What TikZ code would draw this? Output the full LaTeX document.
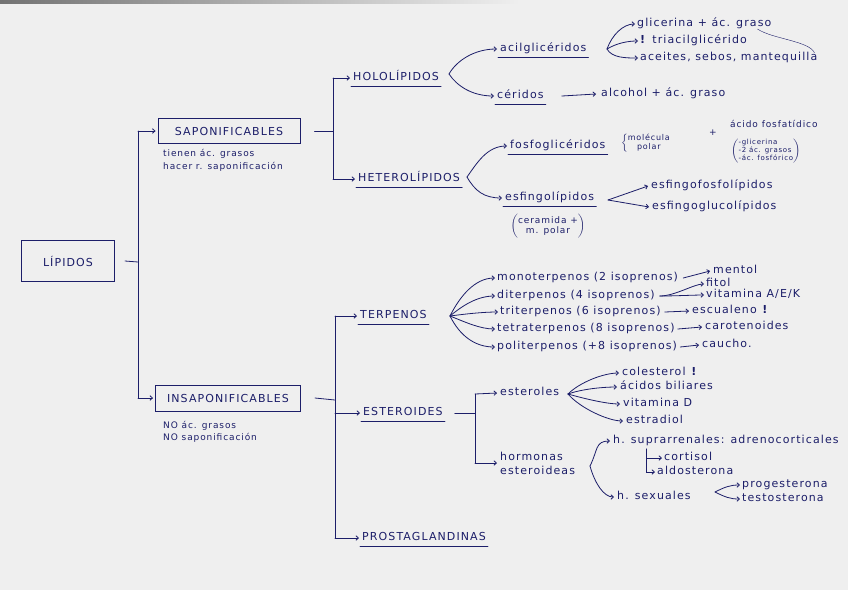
\documentclass[tikz,border=0pt]{standalone}
\usepackage{fontspec}
\setmainfont{DejaVu Sans}
\newfontfamily\hand[LetterSpace=10]{DejaVu Sans}
\usetikzlibrary{arrows.meta}
\definecolor{inkc}{RGB}{28,30,105}
\definecolor{bgc}{RGB}{239,239,239}
\newcommand{\ulnode}[1]{\draw[ink] ([xshift=-2pt,yshift=-3pt]#1.south west) -- ([xshift=2pt,yshift=-3pt]#1.south east);}
\tikzset{
  ink/.style={draw=inkc, line width=0.8pt, line cap=round},
  arr/.style={ink, -{Straight Barb[length=2.5pt,width=4.5pt]}},
  txt/.style={anchor=west, inner sep=0pt, text=inkc, text height=7.5pt, text depth=2.2pt, font=\hand\fontsize{11}{12}\selectfont},
  txtm/.style={anchor=west, inner sep=0pt, text=inkc, align=left, font=\hand\fontsize{11}{14}\selectfont},
  note/.style={anchor=west, inner sep=0pt, text=inkc, text height=6pt, text depth=2pt, font=\hand\fontsize{9}{10}\selectfont},
  boxed/.style={draw=inkc, line width=0.9pt, text=inkc, inner sep=0pt, font=\hand\fontsize{11}{12}\selectfont},
}
\begin{document}
\begin{tikzpicture}[x=1pt,y=-1pt]
\fill[bgc] (0,0) rectangle (848,590);
\shade[left color=black!55, right color=bgc] (0,0) rectangle (520,3);
\useasboundingbox (0,0) rectangle (848,590);

% level 0 and 1
\node[boxed, minimum width=93pt, minimum height=41pt] (lip) at (68,261) {LÍPIDOS};
\node[boxed, minimum width=142pt, minimum height=25pt] (sap) at (229,131) {SAPONIFICABLES};
\node[boxed, minimum width=145pt, minimum height=26pt] (ins) at (228,398) {INSAPONIFICABLES};
\node[note] (sapn1) at (163,154) {tienen ác. grasos};
\node[note] (sapn2) at (163,167) {hacer r. saponificación};
\node[note] (insn1) at (163,426) {NO ác. grasos};
\node[note] (insn2) at (163,438) {NO saponificación};

\coordinate (lj) at (138,262);
\coordinate (la) at (138,131);
\coordinate (lb) at (138,398);
\draw[ink] ([xshift=10pt]lip.east) -- (lj);
\draw[ink] (la) -- (lb);
\draw[arr] (la) -- ([xshift=-2pt]sap.west);
\draw[arr] (lb) -- ([xshift=-2pt]ins.west);

% level 2
\node[txt] (hol) at (353,78) {HOLOLÍPIDOS};
\node[txt] (het) at (358,179) {HETEROLÍPIDOS};
\node[txt] (terp) at (360,316) {TERPENOS};
\node[txt] (est) at (363,413) {ESTEROIDES};
\node[txt] (prost) at (362,538) {PROSTAGLANDINAS};
\ulnode{hol}\ulnode{het}\ulnode{terp}\ulnode{est}\ulnode{prost}

\coordinate (sj) at (333,131);
\coordinate (sa) at (333,78);
\coordinate (sb) at (333,179);
\draw[ink] ([xshift=14pt]sap.east) -- (sj);
\draw[ink] (sa) -- (sb);
\draw[arr] (sa) -- ([xshift=-3pt]hol.west);
\draw[arr] (sb) -- ([xshift=-3pt]het.west);

\coordinate (ij) at (335,400);
\coordinate (ia) at (335,316);
\coordinate (ie) at (335,413);
\coordinate (ib) at (335,538);
\draw[ink] ([xshift=14pt]ins.east) -- (ij);
\draw[ink] (ia) -- (ib);
\draw[arr] (ia) -- ([xshift=-3pt]terp.west);
\draw[arr] (ie) -- ([xshift=-3pt]est.west);
\draw[arr] (ib) -- ([xshift=-3pt]prost.west);

% hololipidos
\node[txt] (acil) at (500,49) {acilglicéridos};
\node[txt] (cer) at (497,96) {céridos};
\ulnode{acil}\ulnode{cer}
\coordinate (hs) at (449,74);
\draw[arr] (hs) .. controls +(8,-14) and +(-22,0) .. ([xshift=-3pt]acil.west);
\draw[arr] (hs) .. controls +(8,12) and +(-22,0) .. ([xshift=-3pt]cer.west);

\node[txt] (glic) at (637,24) {glicerina + ác. graso};
\node[txt] (tri) at (640,41) {\textbf{!} triacilglicérido};
\node[txt] (acei) at (640,58) {aceites, sebos, mantequilla};
\coordinate (as) at (607,49);
\draw[arr] (as) .. controls +(5,-14) and +(-12,0) .. ([xshift=-2pt]glic.west);
\draw[arr] (as) .. controls +(10,-6) and +(-10,0) .. ([xshift=-2pt]tri.west);
\draw[arr] (as) .. controls +(5,9) and +(-12,0) .. ([xshift=-2pt]acei.west);
\draw[inkc, line width=0.4pt] ([xshift=-14pt]glic.south east) .. controls +(15,10) and +(-5,-12) .. ([xshift=-3pt]acei.north east);

\node[txt] (alc) at (601,94) {alcohol + ác. graso};
\draw[arr] ([xshift=18pt]cer.east) -- ([xshift=-5pt]alc.west);

% heterolipidos
\node[txt] (fosfo) at (510,146) {fosfoglicéridos};
\node[txt] (esf) at (505,198) {esfingolípidos};
\ulnode{fosfo}\ulnode{esf}
\coordinate (hts) at (467,177);
\draw[arr] (hts) .. controls +(10,-14) and +(-20,0) .. ([xshift=-3pt]fosfo.west);
\draw[arr] (hts) .. controls +(8,14) and +(-18,0) .. ([xshift=-3pt]esf.west);

\node[anchor=north, inner sep=0pt, text=inkc, font=\hand\fontsize{9}{10}\selectfont] (cera) at (548,214)
  {$\left(\begin{tabular}{@{}c@{}}\hand\fontsize{9}{10}\selectfont ceramida +\\\hand\fontsize{9}{10}\selectfont m. polar\end{tabular}\right)$};
\node[anchor=west, inner sep=0pt, text=inkc, font=\hand\fontsize{8}{9}\selectfont] (molec) at (621,143)
  {$\left\{\begin{tabular}{@{}c@{}}\hand\fontsize{8}{9}\selectfont molécula\\\hand\fontsize{8}{9}\selectfont polar\end{tabular}\right.$};
\node[note] (plus) at (709,133) {+};
\node[note] (acfos) at (730,125) {ácido fosfatídico};
\node[anchor=north west, inner sep=0pt, text=inkc, font=\hand\fontsize{7}{8}\selectfont] (acfl) at (731,139)
  {$\left(\begin{tabular}{@{}l@{}}\hand\fontsize{7}{8}\selectfont -glicerina\\\hand\fontsize{7}{8}\selectfont -2 ác. grasos\\\hand\fontsize{7}{8}\selectfont -ác. fosfórico\end{tabular}\right)$};

\node[txt] (efos) at (651,186) {esfingofosfolípidos};
\node[txt] (eglu) at (652,207) {esfingoglucolípidos};
\coordinate (es) at (608,200);
\draw[arr] (es) -- ([xshift=-3pt]efos.west);
\draw[arr] (es) -- ([xshift=-3pt]eglu.west);

% terpenos
\node[txt] (mono) at (497,278) {monoterpenos (2 isoprenos)};
\node[txt] (di) at (497,296) {diterpenos (4 isoprenos)};
\node[txt] (tri3) at (500,312) {triterpenos (6 isoprenos)};
\node[txt] (tetra) at (497,329) {tetraterpenos (8 isoprenos)};
\node[txt] (poli) at (497,347) {politerpenos (+8 isoprenos)};
\coordinate (ts) at (450,316);
\draw[arr] (ts) .. controls +(10,-20) and +(-20,0) .. ([xshift=-2pt]mono.west);
\draw[arr] (ts) .. controls +(12,-10) and +(-18,0) .. ([xshift=-2pt]di.west);
\draw[arr] (ts) .. controls +(15,-2) and +(-15,0) .. ([xshift=-2pt]tri3.west);
\draw[arr] (ts) .. controls +(15,6) and +(-15,0) .. ([xshift=-2pt]tetra.west);
\draw[arr] (ts) .. controls +(10,20) and +(-20,0) .. ([xshift=-2pt]poli.west);

\node[txt] (mentol) at (713,271) {mentol};
\node[txt] (fitol) at (706,284) {fitol};
\node[txt] (vita) at (706,295) {vitamina A/E/K};
\node[txt] (escu) at (692,311) {escualeno \textbf{!}};
\node[txt] (carot) at (705,327) {carotenoides};
\node[txt] (cauch) at (702,345) {caucho.};
\draw[arr] ([xshift=5pt]mono.east) -- ([xshift=-3pt]mentol.west);
\draw[arr] ([xshift=5pt]di.east) .. controls +(15,0) and +(-10,0) .. ([xshift=-2pt]fitol.west);
\draw[arr] ([xshift=5pt]di.east) .. controls +(15,0) and +(-10,0) .. ([xshift=-2pt]vita.west);
\draw[arr] ([xshift=4pt]tri3.east) -- ([xshift=-3pt]escu.west);
\draw[arr] ([xshift=3pt]tetra.east) -- ([xshift=-3pt]carot.west);
\draw[arr] ([xshift=3pt]poli.east) -- ([xshift=-3pt]cauch.west);

% esteroides
\node[txt] (ester) at (500,393) {esteroles};
\node[txtm] (hormo) at (500,463) {hormonas\\esteroideas};
\coordinate (ej) at (475,413);
\coordinate (ea) at (475,394);
\coordinate (eb) at (475,463);
\draw[ink] ([xshift=12pt]est.east) -- (ej);
\draw[ink] (ea) -- (eb);
\draw[arr] (ea) -- ([xshift=-3pt]ester.west);
\draw[arr] (eb) -- ([xshift=-3pt]hormo.west);

\node[txt] (col) at (622,373) {colesterol \textbf{!}};
\node[txt] (bili) at (620,387) {ácidos biliares};
\node[txt] (vitd) at (623,404) {vitamina D};
\node[txt] (estr) at (626,421) {estradiol};
\coordinate (ess) at (568,394);
\draw[arr] (ess) .. controls +(12,-12) and +(-15,0) .. ([xshift=-3pt]col.west);
\draw[arr] (ess) .. controls +(14,-5) and +(-14,0) .. ([xshift=-3pt]bili.west);
\draw[arr] (ess) .. controls +(14,4) and +(-14,0) .. ([xshift=-3pt]vitd.west);
\draw[arr] (ess) .. controls +(12,14) and +(-15,0) .. ([xshift=-3pt]estr.west);

\node[txt] (supra) at (613,441) {h. suprarrenales: adrenocorticales};
\node[txt] (cort) at (664,458) {cortisol};
\node[txt] (aldo) at (657,472) {aldosterona};
\node[txt] (sex) at (617,497) {h. sexuales};
\coordinate (hs2) at (590,466);
\draw[arr] (hs2) .. controls +(8,-16) and +(-15,0) .. ([xshift=-3pt]supra.west);
\draw[arr] (hs2) .. controls +(5,18) and +(-10,0) .. ([xshift=-3pt]sex.west);
\coordinate (cs) at (646,449);
\draw[arr] (cs) |- ([xshift=-2pt]cort.west);
\draw[arr] (cs) |- ([xshift=-2pt]aldo.west);

\node[txt] (prog) at (742,485) {progesterona};
\node[txt] (test) at (742,499) {testosterona};
\coordinate (sxs) at (715,492);
\draw[arr] (sxs) .. controls +(10,-5) and +(-10,0) .. ([xshift=-2pt]prog.west);
\draw[arr] (sxs) .. controls +(10,5) and +(-10,0) .. ([xshift=-2pt]test.west);
\end{tikzpicture}
\end{document}
